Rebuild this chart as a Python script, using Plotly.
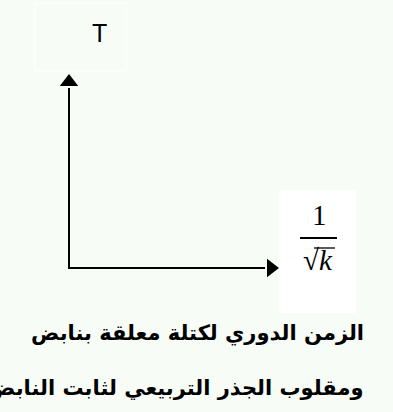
import plotly.graph_objects as go

BG_COLOR = "#f7fcf7"
LINE_COLOR = "#000000"

# diagram content (pixel space of the 393x412 picture, y grows downward)
origin = [69, 268]
y_axis_top = 88
x_axis_end = 265
y_label = "T"
x_label_num = "1"
x_label_den = "√<i>k</i>"
caption_lines = ["الزمن الدوري لكتلة معلقة بنابض", "ومقلوب الجذر التربيعي لثابت النابض"]
caption_y = [333, 388]

fig = go.Figure()

# axes
fig.add_trace(go.Scatter(x=[origin[0], origin[0], x_axis_end], y=[y_axis_top, origin[1], origin[1]],
                         mode="lines", line=dict(color=LINE_COLOR, width=2), hoverinfo="skip"))
# arrow heads
fig.add_trace(go.Scatter(x=[origin[0]], y=[y_axis_top - 6], mode="markers",
                         marker=dict(symbol="triangle-up", size=16, color=LINE_COLOR), hoverinfo="skip"))
fig.add_trace(go.Scatter(x=[x_axis_end + 6], y=[origin[1]], mode="markers",
                         marker=dict(symbol="triangle-right", size=16, color=LINE_COLOR), hoverinfo="skip"))

# label boxes
fig.add_shape(type="rect", x0=35, x1=126, y0=3, y1=71, line=dict(color="white", width=1), fillcolor=BG_COLOR, layer="below")
fig.add_shape(type="rect", x0=279, x1=356, y0=190, y1=313, line=dict(width=0), fillcolor="white", layer="below")
# fraction bar + radical overline
fig.add_shape(type="line", x0=300, x1=337, y0=238, y1=238, line=dict(color=LINE_COLOR, width=2))
fig.add_shape(type="line", x0=314, x1=335, y0=248, y1=248, line=dict(color=LINE_COLOR, width=1.3))

fig.add_annotation(x=99, y=33, text=y_label, showarrow=False,
                   font=dict(family="Liberation Sans", size=25, color=LINE_COLOR))
fig.add_annotation(x=319, y=215, text=x_label_num, showarrow=False,
                   font=dict(family="Liberation Serif", size=29, color=LINE_COLOR))
fig.add_annotation(x=318, y=260, text=x_label_den, showarrow=False,
                   font=dict(family="Liberation Serif", size=29, color=LINE_COLOR))

for line, yy in zip(caption_lines, caption_y):
    fig.add_annotation(x=366, y=yy, text="<b>" + line + "</b>", showarrow=False, xanchor="right",
                       font=dict(family="DejaVu Sans", size=21, color=LINE_COLOR))

fig.update_layout(width=393, height=412, margin=dict(l=0, r=0, t=0, b=0),
                  plot_bgcolor=BG_COLOR, paper_bgcolor=BG_COLOR, showlegend=False)
fig.update_xaxes(range=[0, 393], visible=False, fixedrange=True)
fig.update_yaxes(range=[412, 0], visible=False, fixedrange=True)

fig.write_html("out.html", config={"displayModeBar": False},
               post_script="document.body.style.margin='0';document.body.style.background='%s';" % BG_COLOR)
